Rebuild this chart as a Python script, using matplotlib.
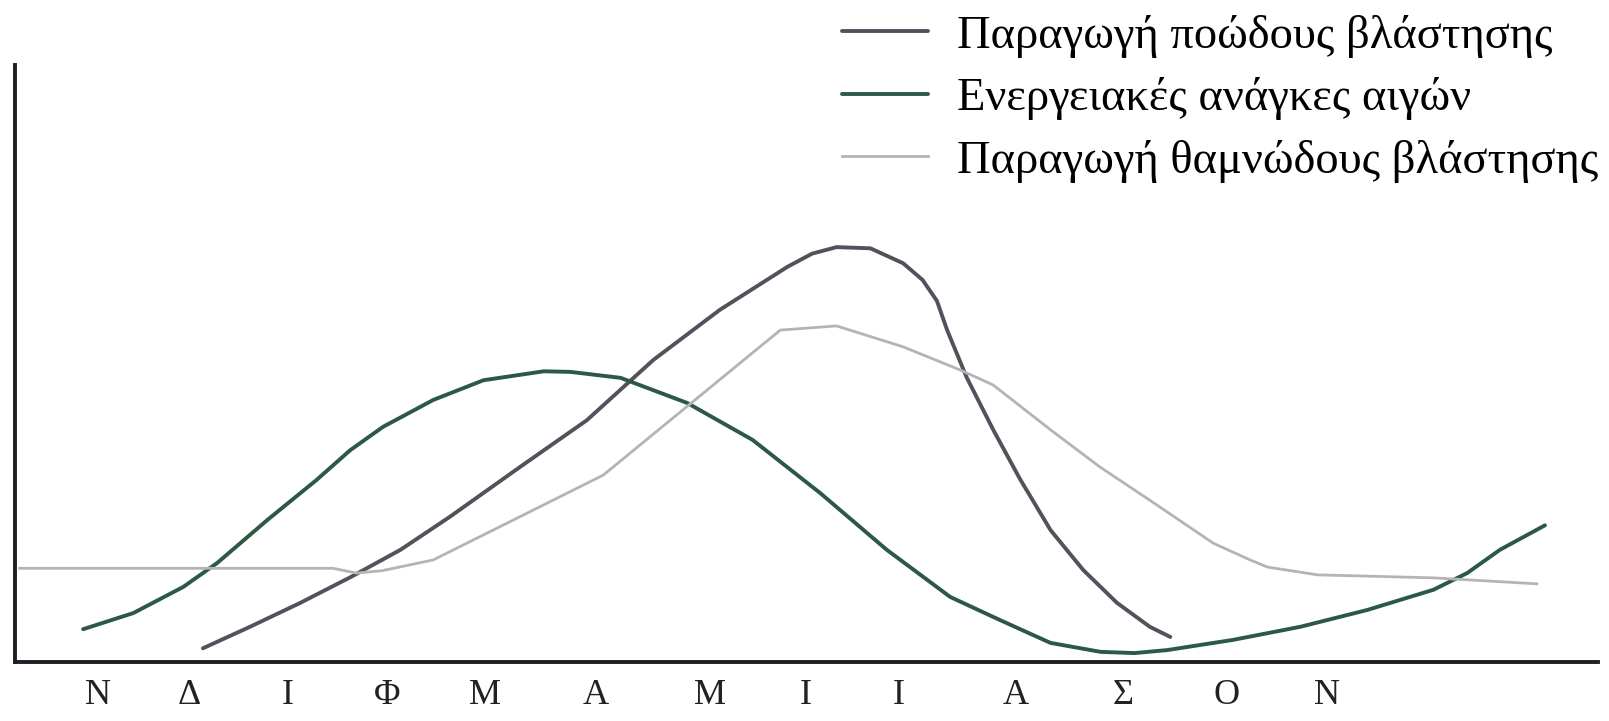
import matplotlib.pyplot as plt

# Μήνες (Νοέμβριος έως Νοέμβριος)
months = ['Ν', 'Δ', 'Ι', 'Φ', 'Μ', 'Α', 'Μ', 'Ι', 'Ι', 'Α', 'Σ', 'Ο', 'Ν']

# Παραγωγή ποώδους βλάστησης (x σε μήνες, y σε σχετικές μονάδες)
grass_x = [1.05, 1.51, 2.00, 2.49, 2.98, 3.46, 4.15, 4.80, 5.45, 6.10, 6.76, 7.00, 7.24, 7.57, 7.89,
           8.08, 8.22, 8.32, 8.51, 8.77, 9.03, 9.33, 9.65, 9.98, 10.30, 10.50]
grass_y = [2.3, 5.9, 9.9, 14.2, 18.8, 24.3, 32.7, 40.5, 50.6, 59.0, 66.2, 68.4, 69.5, 69.3, 66.8,
           64.0, 60.5, 55.6, 47.7, 38.9, 30.7, 22.1, 15.4, 9.9, 5.9, 4.2]

# Ενεργειακές ανάγκες αιγών
goat_x = [-0.12, 0.37, 0.86, 1.19, 1.68, 2.16, 2.49, 2.81, 3.30, 3.79, 4.38, 4.64, 5.13, 5.78, 6.42,
          7.08, 7.73, 8.35, 8.84, 9.33, 9.82, 10.15, 10.47, 11.11, 11.77, 12.42, 13.07, 13.40, 13.72, 14.16]
goat_y = [5.5, 8.2, 12.6, 16.6, 23.8, 30.5, 35.5, 39.4, 43.9, 47.2, 48.7, 48.6, 47.6, 43.4, 37.2,
          28.3, 18.8, 10.9, 7.0, 3.2, 1.7, 1.5, 2.0, 3.7, 5.9, 8.7, 12.1, 14.9, 18.8, 22.9]

# Παραγωγή θαμνώδους βλάστησης
shrub_x = [-0.74, 2.32, 2.55, 2.80, 3.30, 4.96, 6.69, 7.24, 7.89, 8.45, 8.77, 9.33, 9.81, 10.30,
           10.92, 11.28, 11.45, 11.94, 13.07, 14.08]
shrub_y = [15.7, 15.7, 14.9, 15.3, 17.1, 31.3, 55.6, 56.3, 52.8, 48.9, 46.4, 38.9, 32.7, 27.1,
           19.9, 17.1, 15.9, 14.6, 14.1, 13.1]

fig = plt.figure(figsize=(16.09, 7.21), dpi=100)
ax = fig.add_axes([0.0093, 0.0818, 0.984, 0.828])

ax.plot(grass_x, grass_y, color='#55515c', lw=2.8, solid_capstyle='round',
        solid_joinstyle='round', label='Παραγωγή ποώδους βλάστησης')
ax.plot(goat_x, goat_y, color='#2c5944', lw=2.8, solid_capstyle='round',
        solid_joinstyle='round', label='Ενεργειακές ανάγκες αιγών')
ax.plot(shrub_x, shrub_y, color='#b4b4b4', lw=2.0, label='Παραγωγή θαμνώδους βλάστησης')

ax.set_xlim(-0.786, 14.68)
ax.set_ylim(0, 100)

# θέσεις των γραμμάτων όπως είναι τυπωμένα στο πρωτότυπο
tick_pos = [0.03, 0.92, 1.88, 2.85, 3.81, 4.89, 6.0, 6.94, 7.85, 8.99, 10.04, 11.05, 12.03]
ax.set_xticks(tick_pos)
ax.set_xticklabels(months, fontfamily='Liberation Serif', fontsize=26, color='#222222')
ax.tick_params(axis='x', length=0, pad=12)
ax.set_yticks([])

ax.spines['top'].set_visible(False)
ax.spines['right'].set_visible(False)
for s in ['left', 'bottom']:
    ax.spines[s].set_linewidth(2.8)
    ax.spines[s].set_color('#1e1e26')

fig.legend(loc='upper left', bbox_to_anchor=(0.509, 1.012), frameon=False, borderpad=0,
           prop={'family': 'Liberation Serif', 'size': 33.5},
           handlelength=1.85, handletextpad=0.62, labelspacing=0.42)

plt.savefig('out.png', dpi=100)
